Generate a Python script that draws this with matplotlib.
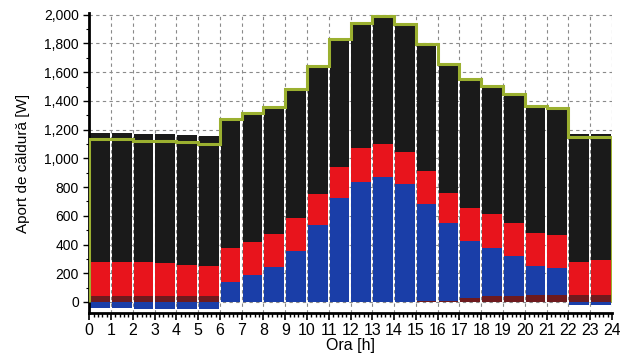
import matplotlib.pyplot as plt
from matplotlib.ticker import MultipleLocator, FuncFormatter
import numpy as np

# Hourly heat gains [W]
hours = list(range(24))
solar = [-45, -45, -48, -50, -52, -52, 141, 188, 242, 357, 537, 723,
         838, 873, 822, 678, 538, 395, 339, 281, 201, 185, -20, -22]
other = [45, 45, 45, 45, 45, 45, 0, 0, 0, 0, 0, 0,
         0, 0, 0, 5, 10, 30, 40, 40, 50, 50, 50, 50]
lighting = [236, 236, 232, 225, 213, 206, 233, 232, 232, 226, 216, 220,
            233, 228, 225, 230, 214, 228, 232, 232, 232, 232, 231, 243]
people = [899, 899, 895, 902, 905, 904, 902, 895, 882, 900, 892, 885,
          871, 887, 888, 884, 898, 899, 895, 895, 885, 885, 891, 879]


def main():
    plt.rcParams['font.family'] = ['Liberation Sans', 'DejaVu Sans']
    fig = plt.figure(figsize=(6.2, 3.6), dpi=100)
    ax = fig.add_axes([0.144, 0.13, 0.843, 0.833])

    x = np.array(hours) + 0.04
    sol = np.array(solar, dtype=float)
    sol_pos = np.clip(sol, 0, None)
    sol_neg = np.clip(sol, None, 0)
    oth = np.array(other, dtype=float)
    lig = np.array(lighting, dtype=float)
    ppl = np.array(people, dtype=float)

    kw = dict(width=0.9, align='edge', linewidth=0, zorder=2)
    # negative solar part below zero
    ax.bar(x, sol_neg, color='#1a3ea8', **kw)
    # positive stack
    ax.bar(x, oth, color='#6e1a1e', **kw)
    ax.bar(x, sol_pos, bottom=oth, color='#1a3ea8', **kw)
    ax.bar(x, lig, bottom=oth + sol_pos, color='#e8141c', **kw)
    ax.bar(x, ppl, bottom=oth + sol_pos + lig, color='#1a1a1a', **kw)

    # total (net) as step line
    total = sol + oth + lig + ppl
    ax.stairs(total, np.arange(25), color='#9bb030', linewidth=2.2, zorder=3)

    ax.set_xlim(0, 24)
    ax.set_ylim(-78, 2010)
    ax.xaxis.set_major_locator(MultipleLocator(1))
    ax.xaxis.set_minor_locator(MultipleLocator(0.2))
    ax.yaxis.set_major_locator(MultipleLocator(200))
    ax.yaxis.set_minor_locator(MultipleLocator(100))
    ax.yaxis.set_major_formatter(FuncFormatter(lambda v, p: f'{int(v):,}'))

    ax.grid(True, which='major', linestyle=(0, (3, 3)), color='#8a8a8a',
            linewidth=0.8, zorder=0)
    ax.set_axisbelow(True)

    for s in ['top', 'right']:
        ax.spines[s].set_visible(False)
    for s in ['left', 'bottom']:
        ax.spines[s].set_linewidth(2)

    ax.tick_params(axis='x', which='major', labelsize=11.5, length=5, width=1.2, pad=2)
    ax.tick_params(axis='x', which='minor', length=3, width=1)
    ax.tick_params(axis='y', which='major', labelsize=10, length=4, width=1)
    ax.tick_params(axis='y', which='minor', length=2, width=0.8)

    ax.set_xlabel('Ora [h]', fontsize=11.5, labelpad=0)
    ax.set_ylabel('Aport de căldură [W]', fontsize=11, labelpad=10)

    fig.savefig('out.png', dpi=100)


if __name__ == '__main__':
    main()
